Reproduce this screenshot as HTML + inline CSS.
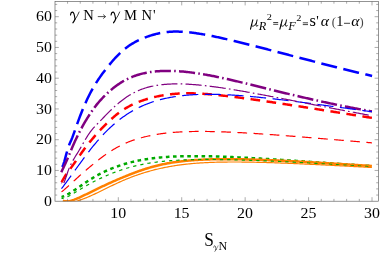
<!DOCTYPE html>
<html><head><meta charset="utf-8"><title>plot</title>
<style>html,body{margin:0;padding:0;background:#fff;}body{width:381px;height:255px;overflow:hidden;position:relative;font-family:"Liberation Serif",serif;}</style>
</head><body>
<svg width="381" height="255" viewBox="0 0 381 255" style="position:absolute;left:0;top:0;will-change:transform;opacity:0.999">
<rect width="381" height="255" fill="#fff"/>
<defs><g id="gam" fill="none" stroke="#000" stroke-linecap="round" stroke-linejoin="round"><path d="M0.3 -4.5 C0.5 -6.2 1.4 -7.45 2.5 -7.35 C3.9 -7.15 4.3 -4.0 4.8 -0.6" stroke-width="1.12"/><path d="M8.9 -7.5 C7.9 -4.8 6.4 -2.3 4.9 -0.2" stroke-width="0.75"/><path d="M4.8 -0.4 C4.3 1.0 3.5 2.3 2.8 3.2" stroke-width="1.3"/></g><g id="mu" fill="none" stroke="#000" stroke-linecap="round" stroke-linejoin="round"><path d="M2.7 -6.3 L0.4 3.0" stroke-width="1.1"/><path d="M1.5 -1.7 C1.4 -0.3 2.0 0.1 2.9 0.0 C4.3 -0.2 5.5 -1.7 6.1 -3.2" stroke-width="0.85"/><path d="M7.0 -6.3 L5.95 -1.6 C5.7 -0.4 6.2 0.2 7.0 -0.1 C7.4 -0.3 7.7 -0.6 7.9 -0.9" stroke-width="0.95"/></g></defs>
<clipPath id="cp"><rect x="55.0" y="1.4" width="323.4" height="199.79999999999998"/></clipPath>
<g fill="none" clip-path="url(#cp)" stroke-linejoin="round">
<path d="M61.3 167.50 L62.3 166.93 L63.3 164.70 L64.3 161.51 L65.3 157.87 L66.3 154.14 L67.3 150.57 L68.3 147.34 L69.3 144.58 L70.3 142.24 L71.3 140.01 L72.3 137.63 L73.3 134.93 L74.3 132.06 L75.3 129.18 L76.3 126.34 L77.3 123.55 L78.3 120.81 L79.3 118.13 L80.3 115.51 L81.3 112.96 L82.3 110.47 L83.3 108.05 L84.3 105.70 L85.3 103.42 L86.3 101.20 L87.3 99.05 L88.3 96.97 L89.3 94.96 L90.3 93.01 L91.3 91.13 L92.3 89.31 L93.3 87.56 L94.3 85.86 L95.3 84.21 L96.3 82.61 L97.3 81.06 L98.3 79.55 L99.3 78.08 L100.3 76.64 L101.3 75.23 L102.3 73.86 L103.3 72.51 L104.3 71.18 L105.3 69.88 L106.3 68.60 L107.3 67.34 L108.3 66.10 L109.3 64.88 L110.3 63.67 L111.3 62.48 L112.3 61.30 L113.3 60.15 L114.3 59.03 L115.3 57.92 L116.3 56.85 L117.3 55.80 L118.3 54.78 L119.3 53.78 L120.3 52.82 L121.3 51.89 L122.3 50.99 L123.3 50.12 L124.3 49.28 L125.3 48.48 L126.3 47.70 L127.3 46.96 L128.3 46.25 L129.3 45.57 L130.3 44.91 L131.3 44.28 L132.3 43.67 L133.3 43.08 L134.3 42.52 L135.3 41.97 L136.3 41.45 L137.3 40.94 L138.3 40.45 L139.3 39.98 L140.3 39.52 L141.3 39.07 L142.3 38.64 L143.3 38.23 L144.3 37.82 L145.3 37.43 L146.3 37.05 L147.3 36.68 L148.3 36.32 L149.3 35.98 L150.3 35.64 L151.3 35.32 L152.3 35.02 L153.3 34.72 L154.3 34.44 L155.3 34.17 L156.3 33.91 L157.3 33.67 L158.3 33.44 L159.3 33.23 L160.3 33.02 L161.3 32.84 L162.3 32.66 L163.3 32.50 L164.3 32.35 L165.3 32.21 L166.3 32.09 L167.3 31.99 L168.3 31.89 L169.3 31.81 L170.3 31.74 L171.3 31.69 L172.3 31.64 L173.3 31.61 L174.3 31.59 L175.3 31.58 L176.3 31.58 L177.3 31.59 L178.3 31.60 L179.3 31.63 L180.3 31.67 L181.3 31.72 L182.3 31.77 L183.3 31.83 L184.3 31.90 L185.3 31.98 L186.3 32.06 L187.3 32.16 L188.3 32.25 L189.3 32.36 L190.3 32.47 L191.3 32.59 L192.3 32.71 L193.3 32.84 L194.3 32.97 L195.3 33.11 L196.3 33.25 L197.3 33.40 L198.3 33.55 L199.3 33.71 L200.3 33.87 L201.3 34.04 L202.3 34.21 L203.3 34.38 L204.3 34.56 L205.3 34.74 L206.3 34.92 L207.3 35.11 L208.3 35.30 L209.3 35.49 L210.3 35.69 L211.3 35.89 L212.3 36.09 L213.3 36.29 L214.3 36.50 L215.3 36.70 L216.3 36.91 L217.3 37.13 L218.3 37.34 L219.3 37.56 L220.3 37.78 L221.3 38.00 L222.3 38.22 L223.3 38.44 L224.3 38.67 L225.3 38.89 L226.3 39.12 L227.3 39.35 L228.3 39.58 L229.3 39.81 L230.3 40.05 L231.3 40.28 L232.3 40.52 L233.3 40.76 L234.3 41.00 L235.3 41.24 L236.3 41.48 L237.3 41.72 L238.3 41.96 L239.3 42.21 L240.3 42.45 L241.3 42.70 L242.3 42.95 L243.3 43.19 L244.3 43.44 L245.3 43.69 L246.3 43.94 L247.3 44.19 L248.3 44.45 L249.3 44.70 L250.3 44.95 L251.3 45.20 L252.3 45.46 L253.3 45.71 L254.3 45.97 L255.3 46.22 L256.3 46.48 L257.3 46.74 L258.3 47.00 L259.3 47.25 L260.3 47.51 L261.3 47.77 L262.3 48.03 L263.3 48.29 L264.3 48.55 L265.3 48.81 L266.3 49.07 L267.3 49.33 L268.3 49.59 L269.3 49.85 L270.3 50.11 L271.3 50.37 L272.3 50.63 L273.3 50.90 L274.3 51.16 L275.3 51.42 L276.3 51.68 L277.3 51.94 L278.3 52.21 L279.3 52.47 L280.3 52.73 L281.3 52.99 L282.3 53.26 L283.3 53.52 L284.3 53.78 L285.3 54.04 L286.3 54.30 L287.3 54.57 L288.3 54.83 L289.3 55.09 L290.3 55.35 L291.3 55.62 L292.3 55.88 L293.3 56.14 L294.3 56.40 L295.3 56.66 L296.3 56.93 L297.3 57.19 L298.3 57.45 L299.3 57.71 L300.3 57.97 L301.3 58.23 L302.3 58.49 L303.3 58.75 L304.3 59.02 L305.3 59.28 L306.3 59.54 L307.3 59.80 L308.3 60.06 L309.3 60.32 L310.3 60.57 L311.3 60.83 L312.3 61.09 L313.3 61.35 L314.3 61.61 L315.3 61.87 L316.3 62.12 L317.3 62.38 L318.3 62.64 L319.3 62.90 L320.3 63.15 L321.3 63.41 L322.3 63.67 L323.3 63.92 L324.3 64.18 L325.3 64.43 L326.3 64.69 L327.3 64.94 L328.3 65.20 L329.3 65.45 L330.3 65.70 L331.3 65.96 L332.3 66.21 L333.3 66.46 L334.3 66.71 L335.3 66.97 L336.3 67.22 L337.3 67.47 L338.3 67.72 L339.3 67.97 L340.3 68.22 L341.3 68.47 L342.3 68.72 L343.3 68.97 L344.3 69.22 L345.3 69.47 L346.3 69.71 L347.3 69.96 L348.3 70.21 L349.3 70.46 L350.3 70.70 L351.3 70.95 L352.3 71.19 L353.3 71.44 L354.3 71.68 L355.3 71.93 L356.3 72.17 L357.3 72.42 L358.3 72.66 L359.3 72.90 L360.3 73.14 L361.3 73.39 L362.3 73.63 L363.3 73.87 L364.3 74.11 L365.3 74.35 L366.3 74.59 L367.3 74.83 L368.3 75.07 L369.3 75.31 L370.3 75.54 L371.3 75.78 L372.1 75.97" stroke="#0000ff" stroke-width="2.5" stroke-dasharray="16.170 6.470" stroke-dashoffset="21.49"/>
<path d="M61.3 172.32 L62.3 170.05 L63.3 167.92 L64.3 165.83 L65.3 163.73 L66.3 161.57 L67.3 159.32 L68.3 156.96 L69.3 154.53 L70.3 152.07 L71.3 149.65 L72.3 147.29 L73.3 144.99 L74.3 142.74 L75.3 140.56 L76.3 138.43 L77.3 136.35 L78.3 134.32 L79.3 132.35 L80.3 130.42 L81.3 128.54 L82.3 126.70 L83.3 124.91 L84.3 123.16 L85.3 121.45 L86.3 119.78 L87.3 118.15 L88.3 116.55 L89.3 114.99 L90.3 113.46 L91.3 111.97 L92.3 110.52 L93.3 109.11 L94.3 107.74 L95.3 106.42 L96.3 105.14 L97.3 103.90 L98.3 102.69 L99.3 101.53 L100.3 100.40 L101.3 99.30 L102.3 98.23 L103.3 97.19 L104.3 96.17 L105.3 95.18 L106.3 94.22 L107.3 93.28 L108.3 92.36 L109.3 91.46 L110.3 90.58 L111.3 89.73 L112.3 88.90 L113.3 88.09 L114.3 87.30 L115.3 86.53 L116.3 85.79 L117.3 85.07 L118.3 84.37 L119.3 83.69 L120.3 83.03 L121.3 82.40 L122.3 81.79 L123.3 81.20 L124.3 80.63 L125.3 80.08 L126.3 79.55 L127.3 79.05 L128.3 78.56 L129.3 78.10 L130.3 77.65 L131.3 77.22 L132.3 76.82 L133.3 76.43 L134.3 76.05 L135.3 75.70 L136.3 75.36 L137.3 75.03 L138.3 74.73 L139.3 74.43 L140.3 74.15 L141.3 73.89 L142.3 73.64 L143.3 73.40 L144.3 73.17 L145.3 72.96 L146.3 72.76 L147.3 72.57 L148.3 72.40 L149.3 72.23 L150.3 72.08 L151.3 71.93 L152.3 71.80 L153.3 71.68 L154.3 71.56 L155.3 71.46 L156.3 71.36 L157.3 71.28 L158.3 71.20 L159.3 71.13 L160.3 71.07 L161.3 71.02 L162.3 70.98 L163.3 70.94 L164.3 70.92 L165.3 70.90 L166.3 70.88 L167.3 70.88 L168.3 70.88 L169.3 70.89 L170.3 70.90 L171.3 70.92 L172.3 70.95 L173.3 70.98 L174.3 71.02 L175.3 71.07 L176.3 71.12 L177.3 71.17 L178.3 71.24 L179.3 71.30 L180.3 71.38 L181.3 71.45 L182.3 71.54 L183.3 71.62 L184.3 71.72 L185.3 71.81 L186.3 71.92 L187.3 72.02 L188.3 72.13 L189.3 72.25 L190.3 72.37 L191.3 72.49 L192.3 72.62 L193.3 72.75 L194.3 72.89 L195.3 73.03 L196.3 73.17 L197.3 73.32 L198.3 73.47 L199.3 73.62 L200.3 73.78 L201.3 73.94 L202.3 74.10 L203.3 74.27 L204.3 74.44 L205.3 74.61 L206.3 74.79 L207.3 74.97 L208.3 75.15 L209.3 75.33 L210.3 75.52 L211.3 75.71 L212.3 75.91 L213.3 76.10 L214.3 76.30 L215.3 76.50 L216.3 76.70 L217.3 76.91 L218.3 77.12 L219.3 77.33 L220.3 77.54 L221.3 77.75 L222.3 77.97 L223.3 78.19 L224.3 78.41 L225.3 78.63 L226.3 78.86 L227.3 79.08 L228.3 79.31 L229.3 79.54 L230.3 79.76 L231.3 80.00 L232.3 80.23 L233.3 80.46 L234.3 80.70 L235.3 80.93 L236.3 81.17 L237.3 81.40 L238.3 81.64 L239.3 81.88 L240.3 82.12 L241.3 82.36 L242.3 82.60 L243.3 82.85 L244.3 83.09 L245.3 83.33 L246.3 83.58 L247.3 83.82 L248.3 84.07 L249.3 84.31 L250.3 84.56 L251.3 84.80 L252.3 85.05 L253.3 85.30 L254.3 85.54 L255.3 85.79 L256.3 86.04 L257.3 86.29 L258.3 86.53 L259.3 86.78 L260.3 87.03 L261.3 87.28 L262.3 87.52 L263.3 87.77 L264.3 88.02 L265.3 88.27 L266.3 88.51 L267.3 88.76 L268.3 89.01 L269.3 89.25 L270.3 89.50 L271.3 89.75 L272.3 89.99 L273.3 90.24 L274.3 90.49 L275.3 90.73 L276.3 90.98 L277.3 91.22 L278.3 91.47 L279.3 91.71 L280.3 91.95 L281.3 92.20 L282.3 92.44 L283.3 92.68 L284.3 92.93 L285.3 93.17 L286.3 93.41 L287.3 93.65 L288.3 93.89 L289.3 94.13 L290.3 94.37 L291.3 94.61 L292.3 94.84 L293.3 95.08 L294.3 95.32 L295.3 95.55 L296.3 95.79 L297.3 96.03 L298.3 96.26 L299.3 96.49 L300.3 96.73 L301.3 96.96 L302.3 97.19 L303.3 97.42 L304.3 97.65 L305.3 97.88 L306.3 98.11 L307.3 98.34 L308.3 98.57 L309.3 98.79 L310.3 99.02 L311.3 99.25 L312.3 99.47 L313.3 99.70 L314.3 99.92 L315.3 100.14 L316.3 100.36 L317.3 100.58 L318.3 100.81 L319.3 101.02 L320.3 101.24 L321.3 101.46 L322.3 101.68 L323.3 101.90 L324.3 102.11 L325.3 102.33 L326.3 102.54 L327.3 102.75 L328.3 102.97 L329.3 103.18 L330.3 103.39 L331.3 103.60 L332.3 103.81 L333.3 104.02 L334.3 104.22 L335.3 104.43 L336.3 104.64 L337.3 104.84 L338.3 105.05 L339.3 105.25 L340.3 105.45 L341.3 105.65 L342.3 105.85 L343.3 106.05 L344.3 106.25 L345.3 106.45 L346.3 106.65 L347.3 106.85 L348.3 107.04 L349.3 107.24 L350.3 107.43 L351.3 107.62 L352.3 107.81 L353.3 108.01 L354.3 108.20 L355.3 108.39 L356.3 108.58 L357.3 108.76 L358.3 108.95 L359.3 109.14 L360.3 109.32 L361.3 109.51 L362.3 109.69 L363.3 109.87 L364.3 110.05 L365.3 110.24 L366.3 110.42 L367.3 110.59 L368.3 110.77 L369.3 110.95 L370.3 111.13 L371.3 111.30 L371.9 111.41" stroke="#800080" stroke-width="2.5" stroke-dasharray="16.170 3.230 1.620 3.230" stroke-dashoffset="0.06"/>
<path d="M61.3 183.00 L62.3 180.89 L63.3 179.03 L64.3 177.34 L65.3 175.77 L66.3 174.29 L67.3 172.86 L68.3 171.47 L69.3 170.10 L70.3 168.74 L71.3 167.38 L72.3 166.01 L73.3 164.63 L74.3 163.24 L75.3 161.82 L76.3 160.39 L77.3 158.95 L78.3 157.50 L79.3 156.06 L80.3 154.62 L81.3 153.20 L82.3 151.80 L83.3 150.41 L84.3 149.05 L85.3 147.72 L86.3 146.41 L87.3 145.12 L88.3 143.86 L89.3 142.61 L90.3 141.39 L91.3 140.18 L92.3 138.99 L93.3 137.82 L94.3 136.66 L95.3 135.52 L96.3 134.39 L97.3 133.28 L98.3 132.18 L99.3 131.08 L100.3 130.01 L101.3 128.94 L102.3 127.88 L103.3 126.84 L104.3 125.81 L105.3 124.80 L106.3 123.81 L107.3 122.83 L108.3 121.87 L109.3 120.92 L110.3 120.00 L111.3 119.09 L112.3 118.20 L113.3 117.33 L114.3 116.48 L115.3 115.65 L116.3 114.84 L117.3 114.06 L118.3 113.29 L119.3 112.54 L120.3 111.82 L121.3 111.11 L122.3 110.43 L123.3 109.77 L124.3 109.13 L125.3 108.52 L126.3 107.92 L127.3 107.34 L128.3 106.78 L129.3 106.24 L130.3 105.71 L131.3 105.21 L132.3 104.72 L133.3 104.24 L134.3 103.78 L135.3 103.33 L136.3 102.90 L137.3 102.48 L138.3 102.08 L139.3 101.68 L140.3 101.30 L141.3 100.94 L142.3 100.58 L143.3 100.23 L144.3 99.90 L145.3 99.57 L146.3 99.26 L147.3 98.95 L148.3 98.66 L149.3 98.37 L150.3 98.10 L151.3 97.83 L152.3 97.57 L153.3 97.32 L154.3 97.08 L155.3 96.85 L156.3 96.62 L157.3 96.40 L158.3 96.20 L159.3 96.00 L160.3 95.81 L161.3 95.62 L162.3 95.45 L163.3 95.28 L164.3 95.12 L165.3 94.96 L166.3 94.82 L167.3 94.68 L168.3 94.55 L169.3 94.43 L170.3 94.31 L171.3 94.20 L172.3 94.10 L173.3 94.00 L174.3 93.91 L175.3 93.83 L176.3 93.75 L177.3 93.68 L178.3 93.62 L179.3 93.56 L180.3 93.51 L181.3 93.46 L182.3 93.42 L183.3 93.39 L184.3 93.36 L185.3 93.34 L186.3 93.32 L187.3 93.31 L188.3 93.31 L189.3 93.31 L190.3 93.31 L191.3 93.32 L192.3 93.34 L193.3 93.36 L194.3 93.39 L195.3 93.42 L196.3 93.45 L197.3 93.49 L198.3 93.54 L199.3 93.59 L200.3 93.64 L201.3 93.69 L202.3 93.75 L203.3 93.82 L204.3 93.88 L205.3 93.95 L206.3 94.03 L207.3 94.10 L208.3 94.18 L209.3 94.26 L210.3 94.35 L211.3 94.43 L212.3 94.52 L213.3 94.62 L214.3 94.71 L215.3 94.81 L216.3 94.91 L217.3 95.01 L218.3 95.11 L219.3 95.21 L220.3 95.32 L221.3 95.43 L222.3 95.54 L223.3 95.65 L224.3 95.77 L225.3 95.88 L226.3 96.00 L227.3 96.12 L228.3 96.23 L229.3 96.35 L230.3 96.48 L231.3 96.60 L232.3 96.72 L233.3 96.85 L234.3 96.97 L235.3 97.10 L236.3 97.23 L237.3 97.36 L238.3 97.49 L239.3 97.62 L240.3 97.75 L241.3 97.88 L242.3 98.01 L243.3 98.14 L244.3 98.28 L245.3 98.41 L246.3 98.55 L247.3 98.68 L248.3 98.82 L249.3 98.96 L250.3 99.10 L251.3 99.23 L252.3 99.37 L253.3 99.51 L254.3 99.65 L255.3 99.79 L256.3 99.94 L257.3 100.08 L258.3 100.22 L259.3 100.36 L260.3 100.51 L261.3 100.65 L262.3 100.79 L263.3 100.94 L264.3 101.08 L265.3 101.23 L266.3 101.38 L267.3 101.52 L268.3 101.67 L269.3 101.82 L270.3 101.96 L271.3 102.11 L272.3 102.26 L273.3 102.41 L274.3 102.56 L275.3 102.71 L276.3 102.86 L277.3 103.01 L278.3 103.16 L279.3 103.31 L280.3 103.46 L281.3 103.61 L282.3 103.77 L283.3 103.92 L284.3 104.07 L285.3 104.22 L286.3 104.37 L287.3 104.53 L288.3 104.68 L289.3 104.83 L290.3 104.99 L291.3 105.14 L292.3 105.30 L293.3 105.45 L294.3 105.61 L295.3 105.76 L296.3 105.92 L297.3 106.07 L298.3 106.23 L299.3 106.38 L300.3 106.54 L301.3 106.69 L302.3 106.85 L303.3 107.01 L304.3 107.16 L305.3 107.32 L306.3 107.48 L307.3 107.63 L308.3 107.79 L309.3 107.95 L310.3 108.10 L311.3 108.26 L312.3 108.42 L313.3 108.58 L314.3 108.73 L315.3 108.89 L316.3 109.05 L317.3 109.21 L318.3 109.37 L319.3 109.52 L320.3 109.68 L321.3 109.84 L322.3 110.00 L323.3 110.16 L324.3 110.32 L325.3 110.47 L326.3 110.63 L327.3 110.79 L328.3 110.95 L329.3 111.11 L330.3 111.27 L331.3 111.43 L332.3 111.59 L333.3 111.74 L334.3 111.90 L335.3 112.06 L336.3 112.22 L337.3 112.38 L338.3 112.54 L339.3 112.70 L340.3 112.86 L341.3 113.02 L342.3 113.18 L343.3 113.34 L344.3 113.49 L345.3 113.65 L346.3 113.81 L347.3 113.97 L348.3 114.13 L349.3 114.29 L350.3 114.45 L351.3 114.61 L352.3 114.77 L353.3 114.93 L354.3 115.09 L355.3 115.25 L356.3 115.40 L357.3 115.56 L358.3 115.72 L359.3 115.88 L360.3 116.04 L361.3 116.20 L362.3 116.36 L363.3 116.52 L364.3 116.68 L365.3 116.83 L366.3 116.99 L367.3 117.15 L368.3 117.31 L369.3 117.47 L370.3 117.63 L371.3 117.79 L371.9 117.88" stroke="#ff0000" stroke-width="2.5" stroke-dasharray="9.700 6.470" stroke-dashoffset="15.41"/>
<path d="M61.5 196.87 L62.5 196.64 L63.5 196.31 L64.5 195.92 L65.5 195.47 L66.5 194.98 L67.5 194.45 L68.5 193.89 L69.5 193.30 L70.5 192.70 L71.5 192.07 L72.5 191.43 L73.5 190.78 L74.5 190.12 L75.5 189.45 L76.5 188.78 L77.5 188.10 L78.5 187.41 L79.5 186.73 L80.5 186.04 L81.5 185.35 L82.5 184.67 L83.5 183.98 L84.5 183.30 L85.5 182.62 L86.5 181.96 L87.5 181.29 L88.5 180.64 L89.5 180.00 L90.5 179.37 L91.5 178.75 L92.5 178.13 L93.5 177.53 L94.5 176.95 L95.5 176.37 L96.5 175.80 L97.5 175.25 L98.5 174.71 L99.5 174.17 L100.5 173.65 L101.5 173.14 L102.5 172.64 L103.5 172.15 L104.5 171.67 L105.5 171.20 L106.5 170.74 L107.5 170.29 L108.5 169.85 L109.5 169.42 L110.5 169.00 L111.5 168.59 L112.5 168.18 L113.5 167.79 L114.5 167.41 L115.5 167.03 L116.5 166.67 L117.5 166.31 L118.5 165.96 L119.5 165.62 L120.5 165.28 L121.5 164.96 L122.5 164.64 L123.5 164.34 L124.5 164.04 L125.5 163.74 L126.5 163.46 L127.5 163.18 L128.5 162.91 L129.5 162.64 L130.5 162.39 L131.5 162.14 L132.5 161.90 L133.5 161.66 L134.5 161.43 L135.5 161.21 L136.5 160.99 L137.5 160.78 L138.5 160.58 L139.5 160.38 L140.5 160.19 L141.5 160.00 L142.5 159.82 L143.5 159.65 L144.5 159.48 L145.5 159.31 L146.5 159.15 L147.5 159.00 L148.5 158.85 L149.5 158.71 L150.5 158.58 L151.5 158.44 L152.5 158.32 L153.5 158.19 L154.5 158.07 L155.5 157.96 L156.5 157.85 L157.5 157.75 L158.5 157.65 L159.5 157.55 L160.5 157.46 L161.5 157.37 L162.5 157.29 L163.5 157.21 L164.5 157.13 L165.5 157.06 L166.5 156.99 L167.5 156.92 L168.5 156.86 L169.5 156.80 L170.5 156.74 L171.5 156.69 L172.5 156.64 L173.5 156.59 L174.5 156.55 L175.5 156.51 L176.5 156.47 L177.5 156.43 L178.5 156.40 L179.5 156.36 L180.5 156.33 L181.5 156.31 L182.5 156.28 L183.5 156.26 L184.5 156.24 L185.5 156.22 L186.5 156.21 L187.5 156.19 L188.5 156.18 L189.5 156.17 L190.5 156.16 L191.5 156.16 L192.5 156.15 L193.5 156.15 L194.5 156.15 L195.5 156.15 L196.5 156.15 L197.5 156.16 L198.5 156.16 L199.5 156.17 L200.5 156.18 L201.5 156.19 L202.5 156.20 L203.5 156.21 L204.5 156.23 L205.5 156.25 L206.5 156.26 L207.5 156.28 L208.5 156.30 L209.5 156.32 L210.5 156.35 L211.5 156.37 L212.5 156.39 L213.5 156.42 L214.5 156.45 L215.5 156.48 L216.5 156.51 L217.5 156.54 L218.5 156.57 L219.5 156.60 L220.5 156.63 L221.5 156.67 L222.5 156.70 L223.5 156.74 L224.5 156.78 L225.5 156.82 L226.5 156.85 L227.5 156.89 L228.5 156.94 L229.5 156.98 L230.5 157.02 L231.5 157.06 L232.5 157.11 L233.5 157.15 L234.5 157.20 L235.5 157.24 L236.5 157.29 L237.5 157.34 L238.5 157.39 L239.5 157.44 L240.5 157.49 L241.5 157.54 L242.5 157.59 L243.5 157.64 L244.5 157.69 L245.5 157.74 L246.5 157.80 L247.5 157.85 L248.5 157.91 L249.5 157.96 L250.5 158.02 L251.5 158.07 L252.5 158.13 L253.5 158.19 L254.5 158.24 L255.5 158.30 L256.5 158.36 L257.5 158.42 L258.5 158.48 L259.5 158.54 L260.5 158.60 L261.5 158.66 L262.5 158.72 L263.5 158.78 L264.5 158.84 L265.5 158.90 L266.5 158.97 L267.5 159.03 L268.5 159.09 L269.5 159.15 L270.5 159.22 L271.5 159.28 L272.5 159.35 L273.5 159.41 L274.5 159.47 L275.5 159.54 L276.5 159.60 L277.5 159.67 L278.5 159.73 L279.5 159.80 L280.5 159.87 L281.5 159.93 L282.5 160.00 L283.5 160.06 L284.5 160.13 L285.5 160.20 L286.5 160.26 L287.5 160.33 L288.5 160.40 L289.5 160.47 L290.5 160.53 L291.5 160.60 L292.5 160.67 L293.5 160.74 L294.5 160.80 L295.5 160.87 L296.5 160.94 L297.5 161.01 L298.5 161.08 L299.5 161.14 L300.5 161.21 L301.5 161.28 L302.5 161.35 L303.5 161.42 L304.5 161.49 L305.5 161.55 L306.5 161.62 L307.5 161.69 L308.5 161.76 L309.5 161.83 L310.5 161.90 L311.5 161.97 L312.5 162.04 L313.5 162.11 L314.5 162.17 L315.5 162.24 L316.5 162.31 L317.5 162.38 L318.5 162.45 L319.5 162.52 L320.5 162.59 L321.5 162.66 L322.5 162.73 L323.5 162.79 L324.5 162.86 L325.5 162.93 L326.5 163.00 L327.5 163.07 L328.5 163.14 L329.5 163.21 L330.5 163.28 L331.5 163.34 L332.5 163.41 L333.5 163.48 L334.5 163.55 L335.5 163.62 L336.5 163.69 L337.5 163.76 L338.5 163.82 L339.5 163.89 L340.5 163.96 L341.5 164.03 L342.5 164.10 L343.5 164.16 L344.5 164.23 L345.5 164.30 L346.5 164.37 L347.5 164.44 L348.5 164.50 L349.5 164.57 L350.5 164.64 L351.5 164.71 L352.5 164.77 L353.5 164.84 L354.5 164.91 L355.5 164.97 L356.5 165.04 L357.5 165.11 L358.5 165.18 L359.5 165.24 L360.5 165.31 L361.5 165.37 L362.5 165.44 L363.5 165.51 L364.5 165.57 L365.5 165.64 L366.5 165.71 L367.5 165.77 L368.5 165.84 L369.5 165.90 L370.5 165.97 L371.5 166.03 L371.9 166.06" stroke="#00aa00" stroke-width="2.5" stroke-dasharray="3.596 3.546" stroke-dashoffset="0.81"/>
<path d="M62.8 200.59 L63.8 200.98 L64.8 201.22 L65.8 201.34 L66.8 201.37 L67.8 201.31 L68.8 201.18 L69.8 200.99 L70.8 200.75 L71.8 200.48 L72.8 200.16 L73.8 199.82 L74.8 199.45 L75.8 199.06 L76.8 198.65 L77.8 198.23 L78.8 197.79 L79.8 197.35 L80.8 196.89 L81.8 196.42 L82.8 195.95 L83.8 195.47 L84.8 194.99 L85.8 194.50 L86.8 194.02 L87.8 193.53 L88.8 193.04 L89.8 192.54 L90.8 192.05 L91.8 191.56 L92.8 191.07 L93.8 190.58 L94.8 190.09 L95.8 189.60 L96.8 189.12 L97.8 188.63 L98.8 188.15 L99.8 187.67 L100.8 187.19 L101.8 186.71 L102.8 186.24 L103.8 185.77 L104.8 185.30 L105.8 184.84 L106.8 184.37 L107.8 183.91 L108.8 183.46 L109.8 183.00 L110.8 182.55 L111.8 182.10 L112.8 181.66 L113.8 181.21 L114.8 180.78 L115.8 180.34 L116.8 179.90 L117.8 179.47 L118.8 179.05 L119.8 178.62 L120.8 178.20 L121.8 177.78 L122.8 177.36 L123.8 176.95 L124.8 176.54 L125.8 176.13 L126.8 175.72 L127.8 175.32 L128.8 174.92 L129.8 174.53 L130.8 174.13 L131.8 173.74 L132.8 173.36 L133.8 172.98 L134.8 172.60 L135.8 172.23 L136.8 171.87 L137.8 171.50 L138.8 171.15 L139.8 170.80 L140.8 170.45 L141.8 170.11 L142.8 169.78 L143.8 169.45 L144.8 169.13 L145.8 168.81 L146.8 168.50 L147.8 168.20 L148.8 167.90 L149.8 167.60 L150.8 167.31 L151.8 167.03 L152.8 166.76 L153.8 166.49 L154.8 166.22 L155.8 165.97 L156.8 165.72 L157.8 165.47 L158.8 165.23 L159.8 165.00 L160.8 164.77 L161.8 164.55 L162.8 164.33 L163.8 164.12 L164.8 163.91 L165.8 163.72 L166.8 163.52 L167.8 163.34 L168.8 163.15 L169.8 162.98 L170.8 162.81 L171.8 162.64 L172.8 162.48 L173.8 162.33 L174.8 162.18 L175.8 162.04 L176.8 161.90 L177.8 161.76 L178.8 161.64 L179.8 161.51 L180.8 161.39 L181.8 161.27 L182.8 161.16 L183.8 161.05 L184.8 160.95 L185.8 160.85 L186.8 160.75 L187.8 160.66 L188.8 160.57 L189.8 160.48 L190.8 160.40 L191.8 160.32 L192.8 160.24 L193.8 160.17 L194.8 160.10 L195.8 160.03 L196.8 159.97 L197.8 159.91 L198.8 159.85 L199.8 159.80 L200.8 159.74 L201.8 159.69 L202.8 159.65 L203.8 159.60 L204.8 159.56 L205.8 159.52 L206.8 159.48 L207.8 159.45 L208.8 159.41 L209.8 159.38 L210.8 159.35 L211.8 159.33 L212.8 159.30 L213.8 159.28 L214.8 159.26 L215.8 159.24 L216.8 159.22 L217.8 159.21 L218.8 159.20 L219.8 159.18 L220.8 159.17 L221.8 159.17 L222.8 159.16 L223.8 159.15 L224.8 159.15 L225.8 159.15 L226.8 159.15 L227.8 159.15 L228.8 159.15 L229.8 159.16 L230.8 159.16 L231.8 159.17 L232.8 159.18 L233.8 159.19 L234.8 159.20 L235.8 159.21 L236.8 159.22 L237.8 159.24 L238.8 159.25 L239.8 159.27 L240.8 159.29 L241.8 159.30 L242.8 159.32 L243.8 159.34 L244.8 159.37 L245.8 159.39 L246.8 159.41 L247.8 159.44 L248.8 159.46 L249.8 159.49 L250.8 159.52 L251.8 159.54 L252.8 159.57 L253.8 159.60 L254.8 159.63 L255.8 159.67 L256.8 159.70 L257.8 159.73 L258.8 159.77 L259.8 159.80 L260.8 159.84 L261.8 159.87 L262.8 159.91 L263.8 159.95 L264.8 159.98 L265.8 160.02 L266.8 160.06 L267.8 160.10 L268.8 160.14 L269.8 160.18 L270.8 160.23 L271.8 160.27 L272.8 160.31 L273.8 160.35 L274.8 160.40 L275.8 160.44 L276.8 160.49 L277.8 160.53 L278.8 160.58 L279.8 160.63 L280.8 160.67 L281.8 160.72 L282.8 160.77 L283.8 160.82 L284.8 160.87 L285.8 160.92 L286.8 160.96 L287.8 161.01 L288.8 161.06 L289.8 161.12 L290.8 161.17 L291.8 161.22 L292.8 161.27 L293.8 161.32 L294.8 161.37 L295.8 161.43 L296.8 161.48 L297.8 161.53 L298.8 161.59 L299.8 161.64 L300.8 161.70 L301.8 161.75 L302.8 161.81 L303.8 161.86 L304.8 161.92 L305.8 161.97 L306.8 162.03 L307.8 162.09 L308.8 162.14 L309.8 162.20 L310.8 162.26 L311.8 162.31 L312.8 162.37 L313.8 162.43 L314.8 162.49 L315.8 162.54 L316.8 162.60 L317.8 162.66 L318.8 162.72 L319.8 162.78 L320.8 162.84 L321.8 162.90 L322.8 162.96 L323.8 163.02 L324.8 163.08 L325.8 163.14 L326.8 163.20 L327.8 163.26 L328.8 163.32 L329.8 163.38 L330.8 163.44 L331.8 163.50 L332.8 163.56 L333.8 163.62 L334.8 163.68 L335.8 163.74 L336.8 163.80 L337.8 163.86 L338.8 163.93 L339.8 163.99 L340.8 164.05 L341.8 164.11 L342.8 164.17 L343.8 164.23 L344.8 164.30 L345.8 164.36 L346.8 164.42 L347.8 164.48 L348.8 164.55 L349.8 164.61 L350.8 164.67 L351.8 164.73 L352.8 164.80 L353.8 164.86 L354.8 164.92 L355.8 164.98 L356.8 165.05 L357.8 165.11 L358.8 165.17 L359.8 165.24 L360.8 165.30 L361.8 165.36 L362.8 165.42 L363.8 165.49 L364.8 165.55 L365.8 165.61 L366.8 165.68 L367.8 165.74 L368.8 165.80 L369.8 165.87 L370.8 165.93 L371.8 165.99 L371.9 166.00" stroke="#ff8000" stroke-width="2.5"/>
<path d="M61.3 188.84 L62.3 187.57 L63.3 186.28 L64.3 184.97 L65.3 183.63 L66.3 182.28 L67.3 180.93 L68.3 179.56 L69.3 178.19 L70.3 176.81 L71.3 175.43 L72.3 174.04 L73.3 172.66 L74.3 171.28 L75.3 169.90 L76.3 168.52 L77.3 167.14 L78.3 165.77 L79.3 164.40 L80.3 163.03 L81.3 161.67 L82.3 160.32 L83.3 158.97 L84.3 157.62 L85.3 156.28 L86.3 154.95 L87.3 153.63 L88.3 152.32 L89.3 151.02 L90.3 149.73 L91.3 148.46 L92.3 147.21 L93.3 145.97 L94.3 144.75 L95.3 143.54 L96.3 142.35 L97.3 141.18 L98.3 140.02 L99.3 138.88 L100.3 137.76 L101.3 136.66 L102.3 135.58 L103.3 134.51 L104.3 133.46 L105.3 132.43 L106.3 131.41 L107.3 130.41 L108.3 129.44 L109.3 128.47 L110.3 127.53 L111.3 126.61 L112.3 125.70 L113.3 124.81 L114.3 123.93 L115.3 123.08 L116.3 122.24 L117.3 121.42 L118.3 120.62 L119.3 119.83 L120.3 119.06 L121.3 118.30 L122.3 117.56 L123.3 116.84 L124.3 116.14 L125.3 115.45 L126.3 114.77 L127.3 114.11 L128.3 113.47 L129.3 112.84 L130.3 112.22 L131.3 111.62 L132.3 111.04 L133.3 110.46 L134.3 109.91 L135.3 109.36 L136.3 108.83 L137.3 108.31 L138.3 107.81 L139.3 107.32 L140.3 106.84 L141.3 106.37 L142.3 105.92 L143.3 105.48 L144.3 105.05 L145.3 104.63 L146.3 104.22 L147.3 103.83 L148.3 103.44 L149.3 103.07 L150.3 102.71 L151.3 102.36 L152.3 102.02 L153.3 101.69 L154.3 101.37 L155.3 101.06 L156.3 100.76 L157.3 100.47 L158.3 100.18 L159.3 99.91 L160.3 99.65 L161.3 99.39 L162.3 99.14 L163.3 98.90 L164.3 98.67 L165.3 98.44 L166.3 98.22 L167.3 98.01 L168.3 97.81 L169.3 97.62 L170.3 97.43 L171.3 97.25 L172.3 97.07 L173.3 96.90 L174.3 96.74 L175.3 96.58 L176.3 96.43 L177.3 96.29 L178.3 96.15 L179.3 96.02 L180.3 95.89 L181.3 95.77 L182.3 95.66 L183.3 95.55 L184.3 95.44 L185.3 95.34 L186.3 95.25 L187.3 95.16 L188.3 95.07 L189.3 94.99 L190.3 94.92 L191.3 94.85 L192.3 94.78 L193.3 94.72 L194.3 94.66 L195.3 94.61 L196.3 94.56 L197.3 94.52 L198.3 94.48 L199.3 94.44 L200.3 94.41 L201.3 94.38 L202.3 94.35 L203.3 94.33 L204.3 94.31 L205.3 94.30 L206.3 94.29 L207.3 94.28 L208.3 94.28 L209.3 94.28 L210.3 94.28 L211.3 94.28 L212.3 94.29 L213.3 94.31 L214.3 94.32 L215.3 94.34 L216.3 94.36 L217.3 94.39 L218.3 94.41 L219.3 94.44 L220.3 94.48 L221.3 94.51 L222.3 94.55 L223.3 94.59 L224.3 94.63 L225.3 94.68 L226.3 94.73 L227.3 94.78 L228.3 94.83 L229.3 94.88 L230.3 94.94 L231.3 95.00 L232.3 95.06 L233.3 95.12 L234.3 95.19 L235.3 95.25 L236.3 95.32 L237.3 95.39 L238.3 95.46 L239.3 95.54 L240.3 95.61 L241.3 95.69 L242.3 95.77 L243.3 95.85 L244.3 95.93 L245.3 96.01 L246.3 96.10 L247.3 96.19 L248.3 96.27 L249.3 96.36 L250.3 96.45 L251.3 96.54 L252.3 96.64 L253.3 96.73 L254.3 96.83 L255.3 96.92 L256.3 97.02 L257.3 97.12 L258.3 97.22 L259.3 97.32 L260.3 97.42 L261.3 97.53 L262.3 97.63 L263.3 97.74 L264.3 97.84 L265.3 97.95 L266.3 98.06 L267.3 98.17 L268.3 98.28 L269.3 98.39 L270.3 98.50 L271.3 98.61 L272.3 98.72 L273.3 98.84 L274.3 98.95 L275.3 99.07 L276.3 99.18 L277.3 99.30 L278.3 99.42 L279.3 99.54 L280.3 99.66 L281.3 99.77 L282.3 99.89 L283.3 100.01 L284.3 100.14 L285.3 100.26 L286.3 100.38 L287.3 100.50 L288.3 100.63 L289.3 100.75 L290.3 100.87 L291.3 101.00 L292.3 101.12 L293.3 101.25 L294.3 101.37 L295.3 101.50 L296.3 101.63 L297.3 101.76 L298.3 101.88 L299.3 102.01 L300.3 102.14 L301.3 102.27 L302.3 102.40 L303.3 102.53 L304.3 102.66 L305.3 102.79 L306.3 102.92 L307.3 103.05 L308.3 103.18 L309.3 103.31 L310.3 103.44 L311.3 103.57 L312.3 103.70 L313.3 103.84 L314.3 103.97 L315.3 104.10 L316.3 104.23 L317.3 104.37 L318.3 104.50 L319.3 104.63 L320.3 104.77 L321.3 104.90 L322.3 105.03 L323.3 105.17 L324.3 105.30 L325.3 105.44 L326.3 105.57 L327.3 105.70 L328.3 105.84 L329.3 105.97 L330.3 106.11 L331.3 106.24 L332.3 106.38 L333.3 106.51 L334.3 106.65 L335.3 106.78 L336.3 106.92 L337.3 107.06 L338.3 107.19 L339.3 107.33 L340.3 107.46 L341.3 107.60 L342.3 107.73 L343.3 107.87 L344.3 108.00 L345.3 108.14 L346.3 108.28 L347.3 108.41 L348.3 108.55 L349.3 108.68 L350.3 108.82 L351.3 108.95 L352.3 109.09 L353.3 109.23 L354.3 109.36 L355.3 109.50 L356.3 109.63 L357.3 109.77 L358.3 109.90 L359.3 110.04 L360.3 110.17 L361.3 110.31 L362.3 110.45 L363.3 110.58 L364.3 110.72 L365.3 110.85 L366.3 110.99 L367.3 111.12 L368.3 111.26 L369.3 111.39 L370.3 111.53 L371.3 111.66 L371.9 111.74" stroke="#0000ff" stroke-width="1.2" stroke-dasharray="16.170 6.470" stroke-dashoffset="22.37"/>
<path d="M61.3 182.61 L62.3 184.29 L63.3 183.79 L64.3 181.92 L65.3 179.28 L66.3 176.28 L67.3 173.24 L68.3 170.37 L69.3 167.81 L70.3 165.55 L71.3 163.51 L72.3 161.64 L73.3 159.87 L74.3 158.19 L75.3 156.55 L76.3 154.94 L77.3 153.32 L78.3 151.70 L79.3 150.05 L80.3 148.36 L81.3 146.62 L82.3 144.85 L83.3 143.08 L84.3 141.32 L85.3 139.61 L86.3 137.94 L87.3 136.33 L88.3 134.78 L89.3 133.30 L90.3 131.90 L91.3 130.57 L92.3 129.32 L93.3 128.16 L94.3 127.06 L95.3 126.00 L96.3 124.97 L97.3 123.96 L98.3 122.95 L99.3 121.92 L100.3 120.89 L101.3 119.85 L102.3 118.81 L103.3 117.77 L104.3 116.73 L105.3 115.70 L106.3 114.67 L107.3 113.65 L108.3 112.65 L109.3 111.65 L110.3 110.67 L111.3 109.70 L112.3 108.74 L113.3 107.81 L114.3 106.88 L115.3 105.98 L116.3 105.09 L117.3 104.22 L118.3 103.37 L119.3 102.54 L120.3 101.73 L121.3 100.94 L122.3 100.17 L123.3 99.42 L124.3 98.69 L125.3 97.98 L126.3 97.29 L127.3 96.62 L128.3 95.97 L129.3 95.35 L130.3 94.74 L131.3 94.15 L132.3 93.59 L133.3 93.04 L134.3 92.52 L135.3 92.02 L136.3 91.53 L137.3 91.07 L138.3 90.63 L139.3 90.20 L140.3 89.80 L141.3 89.41 L142.3 89.05 L143.3 88.70 L144.3 88.36 L145.3 88.04 L146.3 87.74 L147.3 87.45 L148.3 87.18 L149.3 86.92 L150.3 86.68 L151.3 86.44 L152.3 86.22 L153.3 86.02 L154.3 85.82 L155.3 85.64 L156.3 85.46 L157.3 85.30 L158.3 85.15 L159.3 85.01 L160.3 84.88 L161.3 84.76 L162.3 84.64 L163.3 84.54 L164.3 84.44 L165.3 84.36 L166.3 84.28 L167.3 84.21 L168.3 84.15 L169.3 84.09 L170.3 84.04 L171.3 84.00 L172.3 83.97 L173.3 83.94 L174.3 83.92 L175.3 83.91 L176.3 83.90 L177.3 83.90 L178.3 83.90 L179.3 83.91 L180.3 83.93 L181.3 83.95 L182.3 83.97 L183.3 84.00 L184.3 84.04 L185.3 84.08 L186.3 84.12 L187.3 84.17 L188.3 84.22 L189.3 84.28 L190.3 84.34 L191.3 84.41 L192.3 84.48 L193.3 84.55 L194.3 84.63 L195.3 84.71 L196.3 84.79 L197.3 84.88 L198.3 84.97 L199.3 85.06 L200.3 85.16 L201.3 85.26 L202.3 85.36 L203.3 85.47 L204.3 85.58 L205.3 85.69 L206.3 85.80 L207.3 85.92 L208.3 86.04 L209.3 86.16 L210.3 86.28 L211.3 86.41 L212.3 86.54 L213.3 86.67 L214.3 86.80 L215.3 86.93 L216.3 87.07 L217.3 87.21 L218.3 87.35 L219.3 87.49 L220.3 87.63 L221.3 87.78 L222.3 87.93 L223.3 88.08 L224.3 88.23 L225.3 88.38 L226.3 88.53 L227.3 88.69 L228.3 88.85 L229.3 89.00 L230.3 89.16 L231.3 89.32 L232.3 89.49 L233.3 89.65 L234.3 89.81 L235.3 89.98 L236.3 90.15 L237.3 90.31 L238.3 90.48 L239.3 90.65 L240.3 90.82 L241.3 90.99 L242.3 91.17 L243.3 91.34 L244.3 91.52 L245.3 91.69 L246.3 91.87 L247.3 92.04 L248.3 92.22 L249.3 92.40 L250.3 92.58 L251.3 92.76 L252.3 92.94 L253.3 93.12 L254.3 93.30 L255.3 93.49 L256.3 93.67 L257.3 93.85 L258.3 94.04 L259.3 94.22 L260.3 94.41 L261.3 94.60 L262.3 94.78 L263.3 94.97 L264.3 95.16 L265.3 95.34 L266.3 95.53 L267.3 95.72 L268.3 95.91 L269.3 96.10 L270.3 96.29 L271.3 96.48 L272.3 96.67 L273.3 96.86 L274.3 97.05 L275.3 97.24 L276.3 97.43 L277.3 97.63 L278.3 97.82 L279.3 98.01 L280.3 98.20 L281.3 98.40 L282.3 98.59 L283.3 98.78 L284.3 98.97 L285.3 99.17 L286.3 99.36 L287.3 99.55 L288.3 99.75 L289.3 99.94 L290.3 100.14 L291.3 100.33 L292.3 100.52 L293.3 100.72 L294.3 100.91 L295.3 101.11 L296.3 101.30 L297.3 101.50 L298.3 101.69 L299.3 101.89 L300.3 102.08 L301.3 102.28 L302.3 102.47 L303.3 102.66 L304.3 102.86 L305.3 103.05 L306.3 103.25 L307.3 103.44 L308.3 103.64 L309.3 103.83 L310.3 104.03 L311.3 104.22 L312.3 104.41 L313.3 104.61 L314.3 104.80 L315.3 105.00 L316.3 105.19 L317.3 105.39 L318.3 105.58 L319.3 105.77 L320.3 105.97 L321.3 106.16 L322.3 106.35 L323.3 106.55 L324.3 106.74 L325.3 106.93 L326.3 107.13 L327.3 107.32 L328.3 107.51 L329.3 107.70 L330.3 107.90 L331.3 108.09 L332.3 108.28 L333.3 108.47 L334.3 108.66 L335.3 108.86 L336.3 109.05 L337.3 109.24 L338.3 109.43 L339.3 109.62 L340.3 109.81 L341.3 110.00 L342.3 110.19 L343.3 110.38 L344.3 110.57 L345.3 110.76 L346.3 110.95 L347.3 111.14 L348.3 111.33 L349.3 111.52 L350.3 111.71 L351.3 111.89 L352.3 112.08 L353.3 112.27 L354.3 112.46 L355.3 112.65 L356.3 112.83 L357.3 113.02 L358.3 113.21 L359.3 113.39 L360.3 113.58 L361.3 113.77 L362.3 113.95 L363.3 114.14 L364.3 114.32 L365.3 114.51 L366.3 114.69 L367.3 114.88 L368.3 115.06 L369.3 115.25 L370.3 115.43 L371.3 115.62 L371.9 115.73" stroke="#800080" stroke-width="1.2" stroke-dasharray="16.170 3.230 1.620 3.230" stroke-dashoffset="20.29"/>
<path d="M61.3 191.93 L62.3 191.21 L63.3 190.44 L64.3 189.63 L65.3 188.78 L66.3 187.91 L67.3 187.03 L68.3 186.13 L69.3 185.22 L70.3 184.30 L71.3 183.38 L72.3 182.46 L73.3 181.54 L74.3 180.62 L75.3 179.70 L76.3 178.79 L77.3 177.87 L78.3 176.97 L79.3 176.06 L80.3 175.17 L81.3 174.28 L82.3 173.39 L83.3 172.51 L84.3 171.64 L85.3 170.77 L86.3 169.92 L87.3 169.06 L88.3 168.22 L89.3 167.38 L90.3 166.54 L91.3 165.72 L92.3 164.90 L93.3 164.08 L94.3 163.27 L95.3 162.47 L96.3 161.68 L97.3 160.89 L98.3 160.11 L99.3 159.33 L100.3 158.57 L101.3 157.81 L102.3 157.06 L103.3 156.32 L104.3 155.59 L105.3 154.87 L106.3 154.16 L107.3 153.47 L108.3 152.79 L109.3 152.12 L110.3 151.47 L111.3 150.83 L112.3 150.20 L113.3 149.59 L114.3 148.99 L115.3 148.40 L116.3 147.83 L117.3 147.27 L118.3 146.73 L119.3 146.20 L120.3 145.68 L121.3 145.18 L122.3 144.69 L123.3 144.22 L124.3 143.76 L125.3 143.31 L126.3 142.88 L127.3 142.46 L128.3 142.05 L129.3 141.65 L130.3 141.27 L131.3 140.90 L132.3 140.54 L133.3 140.19 L134.3 139.85 L135.3 139.52 L136.3 139.20 L137.3 138.89 L138.3 138.59 L139.3 138.29 L140.3 138.01 L141.3 137.73 L142.3 137.47 L143.3 137.21 L144.3 136.95 L145.3 136.71 L146.3 136.47 L147.3 136.24 L148.3 136.02 L149.3 135.80 L150.3 135.59 L151.3 135.39 L152.3 135.20 L153.3 135.01 L154.3 134.82 L155.3 134.65 L156.3 134.48 L157.3 134.31 L158.3 134.16 L159.3 134.00 L160.3 133.86 L161.3 133.71 L162.3 133.58 L163.3 133.45 L164.3 133.32 L165.3 133.20 L166.3 133.09 L167.3 132.98 L168.3 132.87 L169.3 132.77 L170.3 132.68 L171.3 132.59 L172.3 132.50 L173.3 132.42 L174.3 132.34 L175.3 132.26 L176.3 132.19 L177.3 132.12 L178.3 132.06 L179.3 132.00 L180.3 131.95 L181.3 131.89 L182.3 131.84 L183.3 131.80 L184.3 131.75 L185.3 131.71 L186.3 131.68 L187.3 131.64 L188.3 131.61 L189.3 131.58 L190.3 131.56 L191.3 131.53 L192.3 131.51 L193.3 131.50 L194.3 131.48 L195.3 131.47 L196.3 131.46 L197.3 131.45 L198.3 131.44 L199.3 131.44 L200.3 131.44 L201.3 131.44 L202.3 131.44 L203.3 131.44 L204.3 131.45 L205.3 131.46 L206.3 131.47 L207.3 131.48 L208.3 131.49 L209.3 131.51 L210.3 131.53 L211.3 131.54 L212.3 131.56 L213.3 131.59 L214.3 131.61 L215.3 131.63 L216.3 131.66 L217.3 131.69 L218.3 131.72 L219.3 131.75 L220.3 131.78 L221.3 131.81 L222.3 131.85 L223.3 131.88 L224.3 131.92 L225.3 131.96 L226.3 132.00 L227.3 132.04 L228.3 132.08 L229.3 132.12 L230.3 132.16 L231.3 132.21 L232.3 132.25 L233.3 132.30 L234.3 132.35 L235.3 132.40 L236.3 132.45 L237.3 132.50 L238.3 132.55 L239.3 132.60 L240.3 132.65 L241.3 132.71 L242.3 132.76 L243.3 132.82 L244.3 132.87 L245.3 132.93 L246.3 132.99 L247.3 133.05 L248.3 133.11 L249.3 133.17 L250.3 133.23 L251.3 133.29 L252.3 133.35 L253.3 133.41 L254.3 133.47 L255.3 133.54 L256.3 133.60 L257.3 133.67 L258.3 133.73 L259.3 133.80 L260.3 133.86 L261.3 133.93 L262.3 134.00 L263.3 134.07 L264.3 134.14 L265.3 134.20 L266.3 134.27 L267.3 134.34 L268.3 134.41 L269.3 134.49 L270.3 134.56 L271.3 134.63 L272.3 134.70 L273.3 134.77 L274.3 134.85 L275.3 134.92 L276.3 134.99 L277.3 135.07 L278.3 135.14 L279.3 135.21 L280.3 135.29 L281.3 135.36 L282.3 135.44 L283.3 135.52 L284.3 135.59 L285.3 135.67 L286.3 135.75 L287.3 135.82 L288.3 135.90 L289.3 135.98 L290.3 136.06 L291.3 136.13 L292.3 136.21 L293.3 136.29 L294.3 136.37 L295.3 136.45 L296.3 136.53 L297.3 136.61 L298.3 136.69 L299.3 136.77 L300.3 136.85 L301.3 136.93 L302.3 137.01 L303.3 137.09 L304.3 137.17 L305.3 137.25 L306.3 137.33 L307.3 137.41 L308.3 137.49 L309.3 137.58 L310.3 137.66 L311.3 137.74 L312.3 137.82 L313.3 137.90 L314.3 137.99 L315.3 138.07 L316.3 138.15 L317.3 138.23 L318.3 138.32 L319.3 138.40 L320.3 138.48 L321.3 138.57 L322.3 138.65 L323.3 138.73 L324.3 138.81 L325.3 138.90 L326.3 138.98 L327.3 139.07 L328.3 139.15 L329.3 139.23 L330.3 139.32 L331.3 139.40 L332.3 139.48 L333.3 139.57 L334.3 139.65 L335.3 139.74 L336.3 139.82 L337.3 139.91 L338.3 139.99 L339.3 140.07 L340.3 140.16 L341.3 140.24 L342.3 140.33 L343.3 140.41 L344.3 140.50 L345.3 140.58 L346.3 140.66 L347.3 140.75 L348.3 140.83 L349.3 140.92 L350.3 141.00 L351.3 141.09 L352.3 141.17 L353.3 141.26 L354.3 141.34 L355.3 141.43 L356.3 141.51 L357.3 141.60 L358.3 141.68 L359.3 141.77 L360.3 141.85 L361.3 141.93 L362.3 142.02 L363.3 142.10 L364.3 142.19 L365.3 142.27 L366.3 142.36 L367.3 142.44 L368.3 142.53 L369.3 142.61 L370.3 142.70 L371.3 142.78 L371.9 142.83" stroke="#ff0000" stroke-width="1.2" stroke-dasharray="9.700 6.470" stroke-dashoffset="15.91"/>
<path d="M61.5 198.42 L62.5 198.39 L63.5 198.23 L64.5 197.97 L65.5 197.62 L66.5 197.21 L67.5 196.74 L68.5 196.24 L69.5 195.71 L70.5 195.15 L71.5 194.57 L72.5 193.99 L73.5 193.39 L74.5 192.78 L75.5 192.18 L76.5 191.57 L77.5 190.95 L78.5 190.35 L79.5 189.74 L80.5 189.14 L81.5 188.54 L82.5 187.94 L83.5 187.35 L84.5 186.77 L85.5 186.19 L86.5 185.62 L87.5 185.06 L88.5 184.50 L89.5 183.95 L90.5 183.41 L91.5 182.87 L92.5 182.34 L93.5 181.82 L94.5 181.30 L95.5 180.79 L96.5 180.29 L97.5 179.80 L98.5 179.31 L99.5 178.83 L100.5 178.36 L101.5 177.89 L102.5 177.43 L103.5 176.97 L104.5 176.53 L105.5 176.08 L106.5 175.65 L107.5 175.22 L108.5 174.80 L109.5 174.38 L110.5 173.97 L111.5 173.56 L112.5 173.16 L113.5 172.77 L114.5 172.39 L115.5 172.01 L116.5 171.64 L117.5 171.27 L118.5 170.92 L119.5 170.57 L120.5 170.22 L121.5 169.89 L122.5 169.56 L123.5 169.23 L124.5 168.92 L125.5 168.61 L126.5 168.30 L127.5 168.01 L128.5 167.72 L129.5 167.44 L130.5 167.16 L131.5 166.89 L132.5 166.63 L133.5 166.37 L134.5 166.12 L135.5 165.88 L136.5 165.64 L137.5 165.41 L138.5 165.18 L139.5 164.96 L140.5 164.75 L141.5 164.54 L142.5 164.34 L143.5 164.14 L144.5 163.95 L145.5 163.77 L146.5 163.59 L147.5 163.42 L148.5 163.25 L149.5 163.09 L150.5 162.93 L151.5 162.78 L152.5 162.63 L153.5 162.49 L154.5 162.35 L155.5 162.22 L156.5 162.09 L157.5 161.97 L158.5 161.85 L159.5 161.73 L160.5 161.62 L161.5 161.51 L162.5 161.41 L163.5 161.31 L164.5 161.21 L165.5 161.11 L166.5 161.02 L167.5 160.94 L168.5 160.85 L169.5 160.77 L170.5 160.70 L171.5 160.62 L172.5 160.55 L173.5 160.48 L174.5 160.42 L175.5 160.35 L176.5 160.29 L177.5 160.24 L178.5 160.18 L179.5 160.13 L180.5 160.08 L181.5 160.03 L182.5 159.98 L183.5 159.94 L184.5 159.90 L185.5 159.86 L186.5 159.82 L187.5 159.79 L188.5 159.76 L189.5 159.72 L190.5 159.70 L191.5 159.67 L192.5 159.64 L193.5 159.62 L194.5 159.60 L195.5 159.58 L196.5 159.56 L197.5 159.54 L198.5 159.53 L199.5 159.51 L200.5 159.50 L201.5 159.49 L202.5 159.48 L203.5 159.47 L204.5 159.47 L205.5 159.46 L206.5 159.46 L207.5 159.46 L208.5 159.46 L209.5 159.46 L210.5 159.46 L211.5 159.46 L212.5 159.46 L213.5 159.47 L214.5 159.48 L215.5 159.48 L216.5 159.49 L217.5 159.50 L218.5 159.51 L219.5 159.52 L220.5 159.54 L221.5 159.55 L222.5 159.56 L223.5 159.58 L224.5 159.60 L225.5 159.61 L226.5 159.63 L227.5 159.65 L228.5 159.67 L229.5 159.69 L230.5 159.71 L231.5 159.74 L232.5 159.76 L233.5 159.78 L234.5 159.81 L235.5 159.83 L236.5 159.86 L237.5 159.89 L238.5 159.91 L239.5 159.94 L240.5 159.97 L241.5 160.00 L242.5 160.03 L243.5 160.06 L244.5 160.10 L245.5 160.13 L246.5 160.16 L247.5 160.19 L248.5 160.23 L249.5 160.26 L250.5 160.30 L251.5 160.33 L252.5 160.37 L253.5 160.41 L254.5 160.44 L255.5 160.48 L256.5 160.52 L257.5 160.56 L258.5 160.60 L259.5 160.64 L260.5 160.68 L261.5 160.72 L262.5 160.76 L263.5 160.80 L264.5 160.84 L265.5 160.89 L266.5 160.93 L267.5 160.97 L268.5 161.02 L269.5 161.06 L270.5 161.10 L271.5 161.15 L272.5 161.19 L273.5 161.24 L274.5 161.29 L275.5 161.33 L276.5 161.38 L277.5 161.43 L278.5 161.47 L279.5 161.52 L280.5 161.57 L281.5 161.62 L282.5 161.67 L283.5 161.71 L284.5 161.76 L285.5 161.81 L286.5 161.86 L287.5 161.91 L288.5 161.96 L289.5 162.01 L290.5 162.06 L291.5 162.12 L292.5 162.17 L293.5 162.22 L294.5 162.27 L295.5 162.32 L296.5 162.37 L297.5 162.43 L298.5 162.48 L299.5 162.53 L300.5 162.59 L301.5 162.64 L302.5 162.69 L303.5 162.75 L304.5 162.80 L305.5 162.86 L306.5 162.91 L307.5 162.96 L308.5 163.02 L309.5 163.07 L310.5 163.13 L311.5 163.18 L312.5 163.24 L313.5 163.30 L314.5 163.35 L315.5 163.41 L316.5 163.46 L317.5 163.52 L318.5 163.58 L319.5 163.63 L320.5 163.69 L321.5 163.75 L322.5 163.80 L323.5 163.86 L324.5 163.92 L325.5 163.98 L326.5 164.03 L327.5 164.09 L328.5 164.15 L329.5 164.21 L330.5 164.27 L331.5 164.32 L332.5 164.38 L333.5 164.44 L334.5 164.50 L335.5 164.56 L336.5 164.62 L337.5 164.68 L338.5 164.73 L339.5 164.79 L340.5 164.85 L341.5 164.91 L342.5 164.97 L343.5 165.03 L344.5 165.09 L345.5 165.15 L346.5 165.21 L347.5 165.27 L348.5 165.33 L349.5 165.39 L350.5 165.45 L351.5 165.51 L352.5 165.57 L353.5 165.63 L354.5 165.69 L355.5 165.75 L356.5 165.81 L357.5 165.87 L358.5 165.93 L359.5 165.99 L360.5 166.05 L361.5 166.11 L362.5 166.17 L363.5 166.23 L364.5 166.30 L365.5 166.36 L366.5 166.42 L367.5 166.48 L368.5 166.54 L369.5 166.60 L370.5 166.66 L371.5 166.72 L371.9 166.75" stroke="#00aa00" stroke-width="1.2" stroke-dasharray="3.286 3.983" stroke-dashoffset="1.05"/>
<path d="M63.0 200.86 L64.0 201.31 L65.0 201.66 L66.0 201.91 L67.0 202.09 L68.0 202.19 L69.0 202.23 L70.0 202.22 L71.0 202.15 L72.0 202.05 L73.0 201.90 L74.0 201.72 L75.0 201.51 L76.0 201.28 L77.0 201.02 L78.0 200.73 L79.0 200.43 L80.0 200.10 L81.0 199.76 L82.0 199.41 L83.0 199.04 L84.0 198.65 L85.0 198.26 L86.0 197.85 L87.0 197.44 L88.0 197.02 L89.0 196.59 L90.0 196.15 L91.0 195.70 L92.0 195.25 L93.0 194.79 L94.0 194.33 L95.0 193.86 L96.0 193.39 L97.0 192.92 L98.0 192.44 L99.0 191.96 L100.0 191.47 L101.0 190.99 L102.0 190.50 L103.0 190.00 L104.0 189.51 L105.0 189.02 L106.0 188.52 L107.0 188.03 L108.0 187.54 L109.0 187.05 L110.0 186.56 L111.0 186.07 L112.0 185.59 L113.0 185.11 L114.0 184.64 L115.0 184.17 L116.0 183.70 L117.0 183.24 L118.0 182.78 L119.0 182.33 L120.0 181.88 L121.0 181.43 L122.0 181.00 L123.0 180.56 L124.0 180.14 L125.0 179.71 L126.0 179.30 L127.0 178.89 L128.0 178.48 L129.0 178.08 L130.0 177.69 L131.0 177.30 L132.0 176.92 L133.0 176.54 L134.0 176.17 L135.0 175.80 L136.0 175.45 L137.0 175.09 L138.0 174.74 L139.0 174.40 L140.0 174.07 L141.0 173.74 L142.0 173.41 L143.0 173.09 L144.0 172.78 L145.0 172.47 L146.0 172.17 L147.0 171.87 L148.0 171.58 L149.0 171.30 L150.0 171.02 L151.0 170.74 L152.0 170.47 L153.0 170.21 L154.0 169.95 L155.0 169.70 L156.0 169.45 L157.0 169.21 L158.0 168.97 L159.0 168.74 L160.0 168.51 L161.0 168.28 L162.0 168.07 L163.0 167.85 L164.0 167.65 L165.0 167.44 L166.0 167.24 L167.0 167.05 L168.0 166.86 L169.0 166.67 L170.0 166.49 L171.0 166.32 L172.0 166.15 L173.0 165.98 L174.0 165.82 L175.0 165.66 L176.0 165.51 L177.0 165.36 L178.0 165.21 L179.0 165.07 L180.0 164.93 L181.0 164.80 L182.0 164.67 L183.0 164.55 L184.0 164.42 L185.0 164.31 L186.0 164.19 L187.0 164.08 L188.0 163.98 L189.0 163.88 L190.0 163.78 L191.0 163.68 L192.0 163.59 L193.0 163.50 L194.0 163.42 L195.0 163.34 L196.0 163.26 L197.0 163.18 L198.0 163.11 L199.0 163.04 L200.0 162.97 L201.0 162.91 L202.0 162.85 L203.0 162.79 L204.0 162.73 L205.0 162.68 L206.0 162.63 L207.0 162.58 L208.0 162.53 L209.0 162.49 L210.0 162.45 L211.0 162.41 L212.0 162.37 L213.0 162.33 L214.0 162.30 L215.0 162.27 L216.0 162.24 L217.0 162.21 L218.0 162.19 L219.0 162.16 L220.0 162.14 L221.0 162.12 L222.0 162.10 L223.0 162.08 L224.0 162.07 L225.0 162.05 L226.0 162.04 L227.0 162.03 L228.0 162.02 L229.0 162.01 L230.0 162.01 L231.0 162.00 L232.0 162.00 L233.0 162.00 L234.0 162.00 L235.0 162.00 L236.0 162.00 L237.0 162.00 L238.0 162.01 L239.0 162.01 L240.0 162.02 L241.0 162.02 L242.0 162.03 L243.0 162.04 L244.0 162.05 L245.0 162.07 L246.0 162.08 L247.0 162.09 L248.0 162.11 L249.0 162.12 L250.0 162.14 L251.0 162.16 L252.0 162.18 L253.0 162.20 L254.0 162.22 L255.0 162.24 L256.0 162.26 L257.0 162.28 L258.0 162.30 L259.0 162.33 L260.0 162.35 L261.0 162.38 L262.0 162.41 L263.0 162.43 L264.0 162.46 L265.0 162.49 L266.0 162.52 L267.0 162.55 L268.0 162.58 L269.0 162.61 L270.0 162.64 L271.0 162.67 L272.0 162.71 L273.0 162.74 L274.0 162.77 L275.0 162.81 L276.0 162.84 L277.0 162.88 L278.0 162.92 L279.0 162.95 L280.0 162.99 L281.0 163.03 L282.0 163.06 L283.0 163.10 L284.0 163.14 L285.0 163.18 L286.0 163.22 L287.0 163.26 L288.0 163.30 L289.0 163.34 L290.0 163.38 L291.0 163.43 L292.0 163.47 L293.0 163.51 L294.0 163.55 L295.0 163.60 L296.0 163.64 L297.0 163.68 L298.0 163.73 L299.0 163.77 L300.0 163.82 L301.0 163.86 L302.0 163.91 L303.0 163.95 L304.0 164.00 L305.0 164.05 L306.0 164.09 L307.0 164.14 L308.0 164.19 L309.0 164.23 L310.0 164.28 L311.0 164.33 L312.0 164.38 L313.0 164.42 L314.0 164.47 L315.0 164.52 L316.0 164.57 L317.0 164.62 L318.0 164.67 L319.0 164.72 L320.0 164.77 L321.0 164.82 L322.0 164.87 L323.0 164.92 L324.0 164.97 L325.0 165.02 L326.0 165.07 L327.0 165.12 L328.0 165.17 L329.0 165.22 L330.0 165.27 L331.0 165.32 L332.0 165.37 L333.0 165.43 L334.0 165.48 L335.0 165.53 L336.0 165.58 L337.0 165.63 L338.0 165.69 L339.0 165.74 L340.0 165.79 L341.0 165.84 L342.0 165.89 L343.0 165.95 L344.0 166.00 L345.0 166.05 L346.0 166.11 L347.0 166.16 L348.0 166.21 L349.0 166.26 L350.0 166.32 L351.0 166.37 L352.0 166.42 L353.0 166.48 L354.0 166.53 L355.0 166.58 L356.0 166.64 L357.0 166.69 L358.0 166.74 L359.0 166.80 L360.0 166.85 L361.0 166.91 L362.0 166.96 L363.0 167.01 L364.0 167.07 L365.0 167.12 L366.0 167.17 L367.0 167.23 L368.0 167.28 L369.0 167.34 L370.0 167.39 L371.0 167.44 L371.9 167.49" stroke="#ff8000" stroke-width="1.2"/>
</g>
<g stroke="#5a5a5a" stroke-width="0.65" fill="none">
<rect x="55.0" y="1.4" width="323.4" height="199.79999999999998"/>
<path d="M67.56 201.2 v-2.3 M67.56 1.4 v2.3 M80.25 201.2 v-2.3 M80.25 1.4 v2.3 M92.93 201.2 v-2.3 M92.93 1.4 v2.3 M105.61 201.2 v-2.3 M105.61 1.4 v2.3 M118.30 201.2 v-4.0 M118.30 1.4 v4.0 M130.98 201.2 v-2.3 M130.98 1.4 v2.3 M143.67 201.2 v-2.3 M143.67 1.4 v2.3 M156.35 201.2 v-2.3 M156.35 1.4 v2.3 M169.04 201.2 v-2.3 M169.04 1.4 v2.3 M181.72 201.2 v-4.0 M181.72 1.4 v4.0 M194.41 201.2 v-2.3 M194.41 1.4 v2.3 M207.09 201.2 v-2.3 M207.09 1.4 v2.3 M219.78 201.2 v-2.3 M219.78 1.4 v2.3 M232.47 201.2 v-2.3 M232.47 1.4 v2.3 M245.15 201.2 v-4.0 M245.15 1.4 v4.0 M257.83 201.2 v-2.3 M257.83 1.4 v2.3 M270.52 201.2 v-2.3 M270.52 1.4 v2.3 M283.20 201.2 v-2.3 M283.20 1.4 v2.3 M295.89 201.2 v-2.3 M295.89 1.4 v2.3 M308.57 201.2 v-4.0 M308.57 1.4 v4.0 M321.26 201.2 v-2.3 M321.26 1.4 v2.3 M333.94 201.2 v-2.3 M333.94 1.4 v2.3 M346.63 201.2 v-2.3 M346.63 1.4 v2.3 M359.31 201.2 v-2.3 M359.31 1.4 v2.3 M372.00 201.2 v-4.0 M372.00 1.4 v4.0 M55.0 195.05 h2.2 M378.4 195.05 h-2.2 M55.0 188.90 h2.2 M378.4 188.90 h-2.2 M55.0 182.75 h2.2 M378.4 182.75 h-2.2 M55.0 176.60 h2.2 M378.4 176.60 h-2.2 M55.0 170.45 h3.8 M378.4 170.45 h-3.8 M55.0 164.30 h2.2 M378.4 164.30 h-2.2 M55.0 158.15 h2.2 M378.4 158.15 h-2.2 M55.0 152.00 h2.2 M378.4 152.00 h-2.2 M55.0 145.85 h2.2 M378.4 145.85 h-2.2 M55.0 139.70 h3.8 M378.4 139.70 h-3.8 M55.0 133.55 h2.2 M378.4 133.55 h-2.2 M55.0 127.40 h2.2 M378.4 127.40 h-2.2 M55.0 121.25 h2.2 M378.4 121.25 h-2.2 M55.0 115.10 h2.2 M378.4 115.10 h-2.2 M55.0 108.95 h3.8 M378.4 108.95 h-3.8 M55.0 102.80 h2.2 M378.4 102.80 h-2.2 M55.0 96.65 h2.2 M378.4 96.65 h-2.2 M55.0 90.50 h2.2 M378.4 90.50 h-2.2 M55.0 84.35 h2.2 M378.4 84.35 h-2.2 M55.0 78.20 h3.8 M378.4 78.20 h-3.8 M55.0 72.05 h2.2 M378.4 72.05 h-2.2 M55.0 65.90 h2.2 M378.4 65.90 h-2.2 M55.0 59.75 h2.2 M378.4 59.75 h-2.2 M55.0 53.60 h2.2 M378.4 53.60 h-2.2 M55.0 47.45 h3.8 M378.4 47.45 h-3.8 M55.0 41.30 h2.2 M378.4 41.30 h-2.2 M55.0 35.15 h2.2 M378.4 35.15 h-2.2 M55.0 29.00 h2.2 M378.4 29.00 h-2.2 M55.0 22.85 h2.2 M378.4 22.85 h-2.2 M55.0 16.70 h3.8 M378.4 16.70 h-3.8 M55.0 10.55 h2.2 M378.4 10.55 h-2.2 M55.0 4.40 h2.2 M378.4 4.40 h-2.2" stroke-width="0.55" stroke="#666"/>
</g>
<g font-family="Liberation Serif, serif" font-size="15" fill="#000">
<text transform="translate(51.9 205.80) scale(1.06 1)" text-anchor="end">0</text>
<text transform="translate(51.9 175.05) scale(1.06 1)" text-anchor="end">10</text>
<text transform="translate(51.9 144.30) scale(1.06 1)" text-anchor="end">20</text>
<text transform="translate(51.9 113.55) scale(1.06 1)" text-anchor="end">30</text>
<text transform="translate(51.9 82.80) scale(1.06 1)" text-anchor="end">40</text>
<text transform="translate(51.9 52.05) scale(1.06 1)" text-anchor="end">50</text>
<text transform="translate(51.9 21.30) scale(1.06 1)" text-anchor="end">60</text>
<text transform="translate(118.20 217.5) scale(1.06 1)" text-anchor="middle">10</text>
<text transform="translate(181.62 217.5) scale(1.06 1)" text-anchor="middle">15</text>
<text transform="translate(245.05 217.5) scale(1.06 1)" text-anchor="middle">20</text>
<text transform="translate(308.47 217.5) scale(1.06 1)" text-anchor="middle">25</text>
<text transform="translate(371.90 217.5) scale(1.06 1)" text-anchor="middle">30</text>
</g>
<g font-family="Liberation Serif, serif" fill="#000">
<use href="#gam" transform="translate(70.2 19.5)"/>
<text x="83.3" y="19.5" font-size="14.6">N</text>
<path d="M97.8 16.6 H105.4 M103.2 14.6 L105.6 16.6 L103.2 18.6" stroke="#222" stroke-width="0.8" fill="none"/>
<use href="#gam" transform="translate(110.8 19.5)"/>
<text x="123.9" y="19.5" font-size="14.6">M</text>
<text x="141.5" y="19.5" font-size="14.6">N</text>
<text x="152.9" y="19.5" font-size="14.6">'</text>
<use href="#mu" transform="translate(250.1 26.200000000000003)"/>
<text transform="translate(258.8 29.700000000000003)" font-size="12.3" font-style="italic" fill="#000">R</text>
<text transform="translate(266.8 20.0) scale(1.12 1)" font-size="9.2" fill="#000">2</text>
<path d="M273.2 22.5 h5 M273.2 24.3 h5" stroke="#111" stroke-width="0.8"/>
<use href="#mu" transform="translate(279.5 26.200000000000003)"/>
<text transform="translate(288.2 29.700000000000003)" font-size="12.3" font-style="italic" fill="#000">F</text>
<text transform="translate(296.3 20.6) scale(1.12 1)" font-size="9.2" fill="#000">2</text>
<path d="M302.8 22.8 h5.2 M302.8 24.6 h5.2" stroke="#111" stroke-width="0.8"/>
<text transform="translate(309.4 26.200000000000003)" font-size="16.5" fill="#000">s</text>
<text transform="translate(316.3 26.1)" font-size="14" fill="#000">'</text>
<text transform="translate(320.7 26.1) scale(1.08 1)" font-size="14.5" font-style="italic" fill="#000">α</text>
<text transform="translate(331.8 25.8)" font-size="12.5" fill="#444">(</text>
<text transform="translate(336.2 26.1)" font-size="14.3" fill="#000">1</text>
<path d="M344 23.3 h6" stroke="#111" stroke-width="0.8"/>
<text transform="translate(351.2 26.1) scale(1.08 1)" font-size="14.5" font-style="italic" fill="#000">α</text>
<text transform="translate(359.6 25.8)" font-size="12.5" fill="#444">)</text>
<text transform="translate(204.3 246.3) scale(0.9 1)" font-size="19.2">S</text>
<use href="#gam" transform="translate(213.5 249.6) scale(0.52)"/>
<text x="218.4" y="249.6" font-size="12">N</text>
</g>
</svg>
</body></html>
